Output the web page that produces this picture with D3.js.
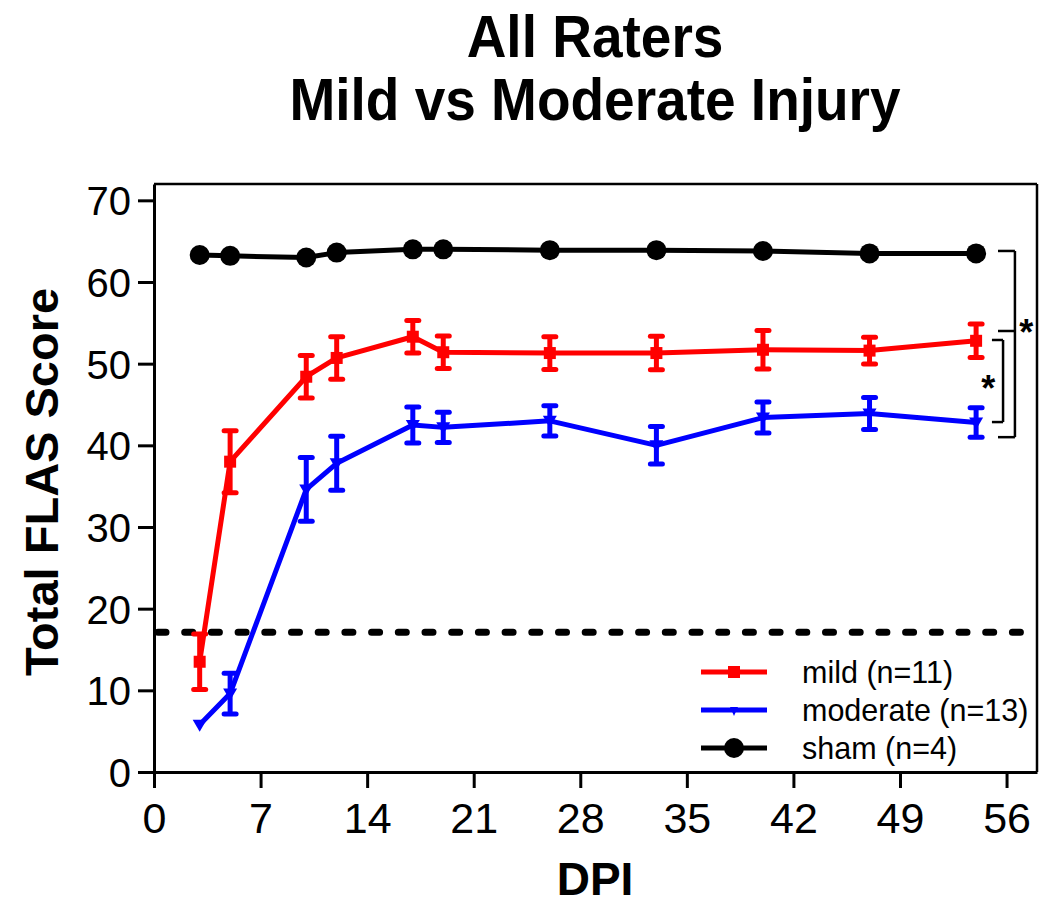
<!DOCTYPE html>
<html>
<head>
<meta charset="utf-8">
<script src="https://d3js.org/d3.v7.min.js"></script>
<style>
  html, body { margin: 0; padding: 0; background: #fff; }
  svg { display: block; }
  text { font-family: "Liberation Sans", Arial, Helvetica, sans-serif; fill: #000; }
</style>
</head>
<body>
<svg id="chart" width="1050" height="910"></svg>
<script>
// ---- Data ----
const days = [3, 5, 10, 12, 17, 19, 26, 33, 40, 47, 54];
const mildMean = [13.5, 38.0, 48.4, 50.7, 53.3, 51.4, 51.3, 51.3, 51.7, 51.6, 52.8];
const mildErr  = [3.4, 3.8, 2.6, 2.6, 2.0, 2.0, 2.0, 2.05, 2.35, 1.65, 2.05];
const moderateMean = [5.8, 9.6, 34.6, 37.8, 42.5, 42.2, 43.0, 40.0, 43.4, 43.9, 42.8];
const moderateErr  = [0, 2.5, 3.9, 3.3, 2.2, 1.85, 1.85, 2.3, 1.9, 1.95, 1.8];
const shamMean = [63.3, 63.2, 63.0, 63.6, 64.0, 64.0, 63.9, 63.9, 63.8, 63.5, 63.5];
const thresholdValue = 17.1;
const xTicks = [0, 7, 14, 21, 28, 35, 42, 49, 56];
const yTicks = [0, 10, 20, 30, 40, 50, 60, 70];
const seriesNames = ["mild (n=11)", "moderate (n=13)", "sham (n=4)"];
const seriesColors = ["#ff0000", "#0000ff", "#000000"];
const titleLines = ["All Raters", "Mild vs Moderate Injury"];
// significance brackets
const outerBracketY = [63.8, 54.0, 41.0];
const innerBracketY = [52.9, 42.85];
const outerBracketX = [56.55, 55.44];
const innerBracketX = [55.77, 55.04];
const starMarks = [{x: 57.3, y: 54.9}, {x: 54.8, y: 48.0}];

// ---- Layout ----
const plotLeft = 154, plotRight = 1037, plotTop = 184, plotBottom = 772;
const svg = d3.select("#chart");
const x = d3.scaleLinear().domain([0, 58]).range([plotLeft, plotRight]);
const y = d3.scaleLinear().domain([0, 72]).range([plotBottom, plotTop]);

// Title
svg.selectAll("text.title").data(titleLines).enter().append("text")
  .attr("class", "title")
  .attr("transform", (d, i) => `translate(595,${57 + i * 63}) scale(1,1.08)`)
  .attr("text-anchor", "middle")
  .style("font-size", "55px").style("font-weight", "bold")
  .text(d => d);

// Frame (top and right)
svg.append("line").attr("x1", plotLeft).attr("x2", plotRight).attr("y1", plotTop).attr("y2", plotTop)
  .attr("stroke", "#000").attr("stroke-width", 2.5);
svg.append("line").attr("x1", plotRight).attr("x2", plotRight).attr("y1", plotTop).attr("y2", plotBottom)
  .attr("stroke", "#000").attr("stroke-width", 2.5);

// Axes
const yAxis = svg.append("g").attr("transform", `translate(${plotLeft},0)`)
  .call(d3.axisLeft(y).tickValues(yTicks).tickSize(16).tickSizeOuter(0).tickPadding(7));
const xAxis = svg.append("g").attr("transform", `translate(0,${plotBottom})`)
  .call(d3.axisBottom(x).tickValues(xTicks).tickSize(16).tickSizeOuter(0).tickPadding(14));
[xAxis, yAxis].forEach(g => {
  g.select(".domain").attr("stroke", "#000").attr("stroke-width", 3);
  g.selectAll(".tick line").attr("stroke", "#000").attr("stroke-width", 3);
  g.selectAll(".tick text").attr("fill", "#000")
    .style("font-family", '"Liberation Sans", Arial, sans-serif');
});
yAxis.selectAll(".tick text").style("font-size", "40px").attr("dy", "0.36em");
xAxis.selectAll(".tick text").style("font-size", "43px").attr("dy", "0.72em");

// Axis labels
svg.append("text")
  .attr("transform", `translate(41,482) rotate(-90)`)
  .attr("text-anchor", "middle").attr("dominant-baseline", "central")
  .style("font-size", "47px").style("font-weight", "bold")
  .text("Total FLAS Score");
svg.append("text")
  .attr("x", 595).attr("y", 895)
  .attr("text-anchor", "middle")
  .style("font-size", "46px").style("font-weight", "bold")
  .text("DPI");

// Threshold dashed line
svg.append("line")
  .attr("x1", x(0) + 4).attr("x2", plotRight)
  .attr("y1", y(thresholdValue)).attr("y2", y(thresholdValue))
  .attr("stroke", "#000").attr("stroke-width", 7)
  .attr("stroke-linecap", "round")
  .attr("stroke-dasharray", "8 18.7");

// Series
const series = [
  {name: seriesNames[0], color: seriesColors[0], mean: mildMean, err: mildErr, marker: "square"},
  {name: seriesNames[1], color: seriesColors[1], mean: moderateMean, err: moderateErr, marker: "triangle"},
  {name: seriesNames[2], color: seriesColors[2], mean: shamMean, err: null, marker: "circle"}
];

function drawMarker(g, type, cx, cy, color) {
  if (type === "square") {
    g.append("rect").attr("x", cx - 6).attr("y", cy - 6).attr("width", 12).attr("height", 12)
      .attr("fill", color);
  } else if (type === "triangle") {
    g.append("path").attr("d", `M${cx - 7},${cy - 5} L${cx + 7},${cy - 5} L${cx},${cy + 7} Z`)
      .attr("fill", color);
  } else {
    g.append("circle").attr("cx", cx).attr("cy", cy).attr("r", 10).attr("fill", color);
  }
}

const line = d3.line().x(d => x(d[0])).y(d => y(d[1]));

series.forEach(s => {
  const g = svg.append("g");
  const pts = days.map((d, i) => [d, s.mean[i], s.err ? s.err[i] : 0]);
  if (s.err) {
    pts.forEach(p => {
      if (p[2] <= 0) return;
      const cx = x(p[0]);
      g.append("line").attr("x1", cx).attr("x2", cx)
        .attr("y1", y(p[1] + p[2])).attr("y2", y(p[1] - p[2]))
        .attr("stroke", s.color).attr("stroke-width", 5);
      [p[1] + p[2], p[1] - p[2]].forEach(v => {
        g.append("line").attr("x1", cx - 6).attr("x2", cx + 6)
          .attr("y1", y(v)).attr("y2", y(v))
          .attr("stroke", s.color).attr("stroke-width", 5).attr("stroke-linecap", "round");
      });
    });
  }
  g.append("path").datum(pts).attr("d", line)
    .attr("fill", "none").attr("stroke", s.color).attr("stroke-width", 5)
    .attr("stroke-linejoin", "round");
  pts.forEach(p => drawMarker(g, s.marker, x(p[0]), y(p[1]), s.color));
});

// Significance brackets
function bracket(xs, ys) {
  const g = svg.append("g").attr("stroke", "#000").attr("stroke-width", 2.5).attr("fill", "none");
  g.append("line").attr("x1", x(xs[0])).attr("x2", x(xs[0]))
    .attr("y1", y(ys[0])).attr("y2", y(ys[ys.length - 1]));
  ys.forEach(v => g.append("line").attr("x1", x(xs[1])).attr("x2", x(xs[0]))
    .attr("y1", y(v)).attr("y2", y(v)));
}
bracket(outerBracketX, outerBracketY);
bracket(innerBracketX, innerBracketY);
svg.selectAll("text.star").data(starMarks).enter().append("text")
  .attr("class", "star")
  .attr("x", d => x(d.x)).attr("y", d => y(d.y) + 21)
  .attr("text-anchor", "middle")
  .style("font-size", "36px").style("font-weight", "bold")
  .text("*");

// Legend
const legend = svg.append("g");
series.forEach((s, i) => {
  const ly = 672 + i * 38;
  legend.append("line").attr("x1", 701).attr("x2", 767).attr("y1", ly).attr("y2", ly)
    .attr("stroke", s.color).attr("stroke-width", 5);
  if (s.marker === "triangle") {
    legend.append("path").attr("d", `M${734 - 4},${ly - 3} L${734 + 4},${ly - 3} L${734},${ly + 6} Z`)
      .attr("fill", s.color);
  } else if (s.marker === "square") {
    legend.append("rect").attr("x", 728).attr("y", ly - 6).attr("width", 12).attr("height", 12)
      .attr("fill", s.color);
  } else {
    legend.append("circle").attr("cx", 734).attr("cy", ly).attr("r", 10).attr("fill", s.color);
  }
  legend.append("text").attr("x", 802).attr("y", ly + 11)
    .style("font-size", "30.5px")
    .text(s.name);
});
</script>
</body>
</html>
